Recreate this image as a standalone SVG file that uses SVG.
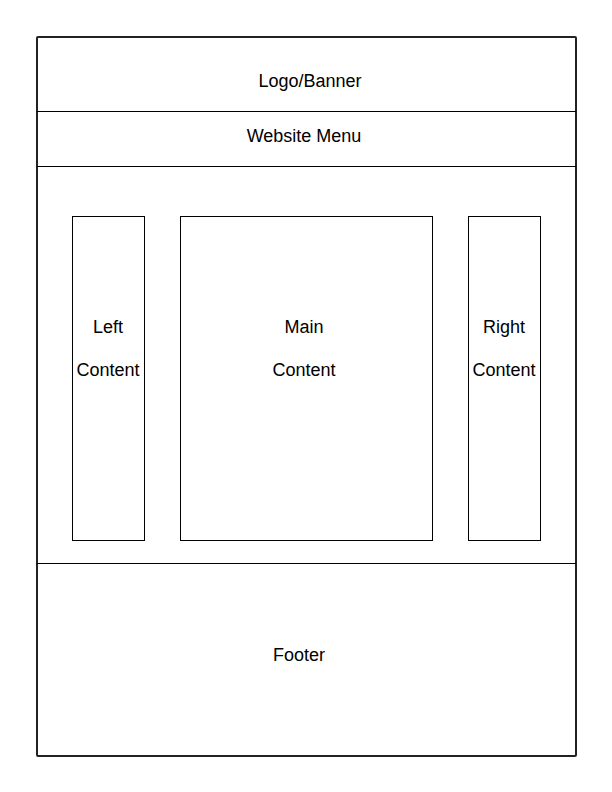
<svg xmlns="http://www.w3.org/2000/svg" width="612" height="792" viewBox="0 0 612 792">
<style>
.t{font-family:"Liberation Sans",Arial,sans-serif;font-size:18px;fill:#000;text-anchor:middle}
.b{fill:#fff;stroke:#000;stroke-width:1}
</style>
<rect width="612" height="792" fill="#fff"/>
<g id="page">
<rect x="37" y="37" width="539" height="719" rx="1" fill="#fff" stroke="#222" stroke-width="2"/>
</g>
<g id="connectors">
<line x1="37" y1="111.5" x2="576" y2="111.5" stroke="#000" stroke-width="1"/>
<line x1="37" y1="166.5" x2="576" y2="166.5" stroke="#000" stroke-width="1"/>
<line x1="37" y1="563.5" x2="576" y2="563.5" stroke="#000" stroke-width="1"/>
</g>
<g id="banner"><text class="t" x="310" y="87">Logo/Banner</text></g>
<g id="menu"><text class="t" x="304" y="142">Website Menu</text></g>
<g id="left"><rect class="b" x="72.5" y="216.5" width="72" height="324"/><text class="t" x="108" y="333">Left</text><text class="t" x="108" y="376">Content</text></g>
<g id="main"><rect class="b" x="180.5" y="216.5" width="252" height="324"/><text class="t" x="304" y="333">Main</text><text class="t" x="304" y="376">Content</text></g>
<g id="right"><rect class="b" x="468.5" y="216.5" width="72" height="324"/><text class="t" x="504" y="333">Right</text><text class="t" x="504" y="376">Content</text></g>
<g id="footer"><text class="t" x="299" y="661">Footer</text></g>
</svg>
